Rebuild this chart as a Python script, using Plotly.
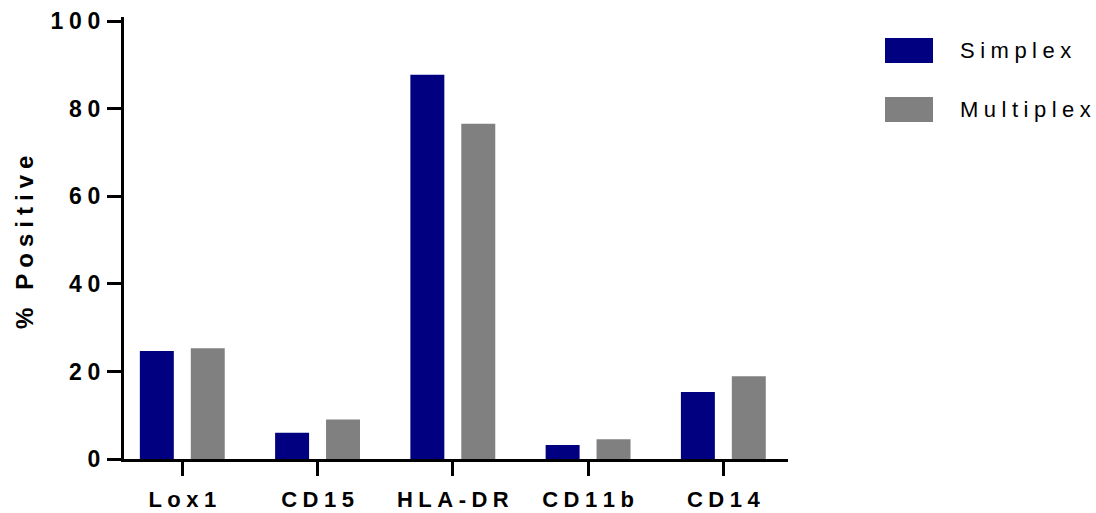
import plotly.graph_objects as go

# Marker panel: percentage of positive cells per marker
markers = ["Lox1", "CD15", "HLA-DR", "CD11b", "CD14"]
simplex = [24.7, 6.0, 87.8, 3.2, 15.3]
multiplex = [25.3, 9.0, 76.6, 4.5, 18.9]
y_ticks = [0, 20, 40, 60, 80, 100]

NAVY = "#000080"
GREY = "#808080"
FONT = "Liberation Sans, Arial, sans-serif"
GAP = "\u2005"  # quarter-em space used to open up letter tracking


def spaced(s, gap=GAP):
    # widen the tracking of a label by putting a narrow space between characters
    return gap.join(s)


fig = go.Figure()
fig.add_trace(go.Bar(x=list(range(len(markers))), y=simplex, name="Simplex",
                     marker=dict(color=NAVY, line=dict(width=0))))
fig.add_trace(go.Bar(x=list(range(len(markers))), y=multiplex, name="Multiplex",
                     marker=dict(color=GREY, line=dict(width=0))))

L, R, T, B = 124, 308, 17, 54
W, H = 1096, 513
pw, ph = W - L - R, H - T - B

fig.update_layout(
    width=W, height=H,
    margin=dict(l=L, r=R, t=T, b=B, autoexpand=False),
    paper_bgcolor="white", plot_bgcolor="white",
    barmode="group", bargap=0.247, bargroupgap=0.333,
    showlegend=False,
    font=dict(family=FONT, color="black"),
)

fig.update_xaxes(
    automargin=False,
    range=[-0.431, 4.478],
    tickmode="array",
    tickvals=list(range(len(markers))),
    ticktext=[spaced(m) for m in markers],
    tickfont=dict(size=22, family=FONT, weight="bold"),
    ticklabelstandoff=5,
    showline=True, linecolor="black", linewidth=3,
    ticks="outside", ticklen=14, tickwidth=3, tickcolor="black",
    showgrid=False, zeroline=False,
)

fig.update_yaxes(
    automargin=False,
    range=[0, 101],
    tickmode="array",
    tickvals=y_ticks,
    ticktext=[spaced(str(v)) for v in y_ticks],
    tickfont=dict(size=23, family=FONT, weight="bold"),
    ticklabelstandoff=2,
    showline=True, linecolor="black", linewidth=3,
    ticks="outside", ticklen=14, tickwidth=3, tickcolor="black",
    showgrid=False, zeroline=False,
)

# Y-axis title, rotated, placed left of the tick labels
fig.add_annotation(xref="paper", yref="paper",
                   x=(24 - L) / pw, y=(H - B - 242) / ph,
                   text="%" + GAP * 3 + spaced("Positive"), textangle=-90,
                   showarrow=False, xanchor="center", yanchor="middle",
                   font=dict(size=24, family=FONT, weight="bold", color="black"))

# Legend drawn as swatches and labels beside the plot
legend_items = [("Simplex", NAVY, 38, 63), ("Multiplex", GREY, 97, 122)]
for label, color, top, bottom in legend_items:
    fig.add_shape(type="rect", xref="paper", yref="paper",
                  x0=(885 - L) / pw, x1=(933 - L) / pw,
                  y0=(H - B - bottom) / ph, y1=(H - B - top) / ph,
                  fillcolor=color, line=dict(width=0))
    fig.add_annotation(xref="paper", yref="paper",
                       x=(958 - L) / pw,
                       y=(H - B - (top + bottom) / 2) / ph,
                       text=spaced(label), showarrow=False,
                       xanchor="left", yanchor="middle",
                       font=dict(size=22, family=FONT, color="black"))

fig.write_html("out.html")
